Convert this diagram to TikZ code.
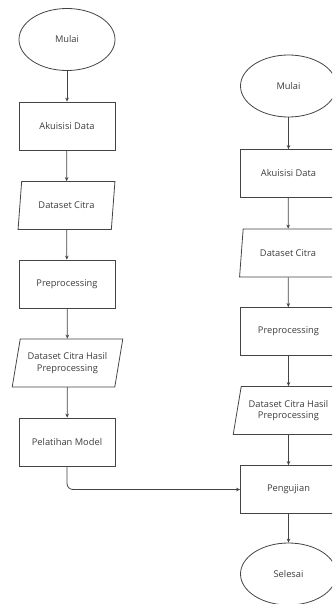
\documentclass[tikz,border=0pt]{standalone}
\usepackage{fontspec}
\setmainfont{Open Sans}
\usetikzlibrary{shapes.geometric,arrows.meta}
\definecolor{linec}{HTML}{444444}
\definecolor{textc}{HTML}{3C3C3C}
\tikzset{
  base/.style={draw=linec, line width=0.8pt, text=textc, font=\fontsize{9.3}{11.5}\selectfont, align=center, inner sep=0pt},
  procbox/.style={base, rectangle, minimum width=96pt, minimum height=48pt},
  termbox/.style={base, ellipse, minimum width=96pt, minimum height=62pt},
  databox/.style={base, trapezium, trapezium left angle=72, trapezium right angle=108, trapezium stretches=true, minimum height=48pt},
  arr/.style={draw=linec, line width=0.8pt, -{Stealth[length=4pt,width=3.6pt]}}
}
\begin{document}
\begin{tikzpicture}[x=1pt,y=-1pt]
\useasboundingbox (0,0) rectangle (332,604);
\clip (0,0) rectangle (332,604);
% left column
\node[termbox] (m1) at (67,39.5) {Mulai};
\node[procbox] (a1) at (67,126) {Akuisisi Data};
\node[databox, minimum width=97pt] (d1) at (66.5,205.5) {Dataset Citra};
\node[procbox] (p1) at (67,284) {Preprocessing};
\node[databox, minimum width=111pt] (h1) at (67.5,363) {Dataset Citra Hasil\\Preprocessing};
\node[procbox] (t1) at (67,442) {Pelatihan Model};
% right column
\node[termbox] (m2) at (288.5,86) {Mulai};
\node[procbox] (a2) at (288.5,173.5) {Akuisisi Data};
\node[databox, minimum width=97pt] (d2) at (288,253) {Dataset Citra};
\node[procbox] (p2) at (288.5,331.5) {Preprocessing};
\node[databox, minimum width=111pt] (h2) at (288.5,410.5) {Dataset Citra Hasil\\Preprocessing};
\node[procbox] (u2) at (288.5,489.5) {Pengujian};
\node[termbox] (s2) at (288.5,574) {Selesai};
% connectors
\draw[arr] (m1) -- (a1);
\draw[arr] (a1) -- (d1);
\draw[arr] (d1) -- (p1);
\draw[arr] (p1) -- (h1);
\draw[arr] (h1) -- (t1);
\draw[arr] (m2) -- (a2);
\draw[arr] (a2) -- (d2);
\draw[arr] (d2) -- (p2);
\draw[arr] (p2) -- (h2);
\draw[arr] (h2) -- (u2);
\draw[arr] (u2) -- (s2);
\draw[arr, rounded corners=6pt] (t1.south) |- (u2.west);
\end{tikzpicture}
\end{document}
